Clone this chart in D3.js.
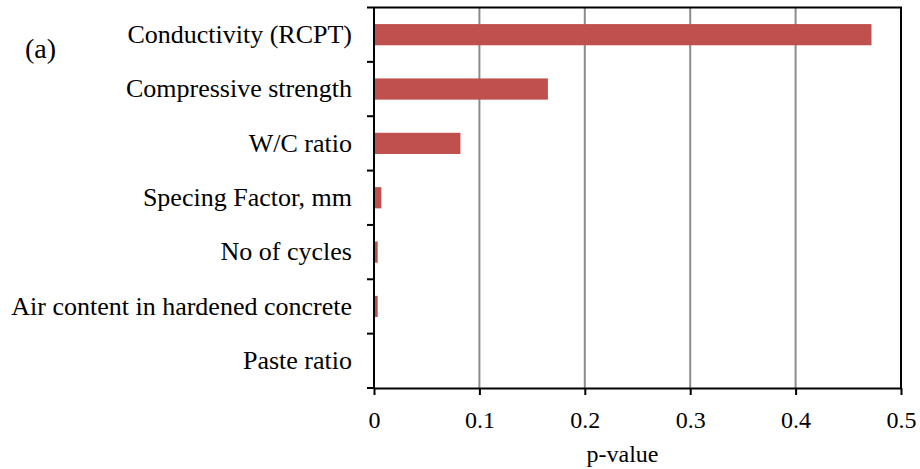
<!DOCTYPE html>
<html>
<head>
<meta charset="utf-8">
<script src="https://cdn.jsdelivr.net/npm/d3@7"></script>
<style>
  html, body { margin: 0; padding: 0; background: #fff; }
  svg { display: block; }
</style>
</head>
<body>
<svg id="chart" width="920" height="469"></svg>
<script>
// Factors and their p-values
const categories = [
  "Conductivity (RCPT)",
  "Compressive strength",
  "W/C ratio",
  "Specing Factor, mm",
  "No of cycles",
  "Air content in hardened concrete",
  "Paste ratio"
];
const pValues = [0.472, 0.165, 0.082, 0.007, 0.0035, 0.0035, 0];
const xTicks = [0, 0.1, 0.2, 0.3, 0.4, 0.5];
const xTickLabels = ["0", "0.1", "0.2", "0.3", "0.4", "0.5"];

const FONT = "'Liberation Serif', 'Times New Roman', serif";

const svg = d3.select("#chart");
const W = 920, H = 469;
const margin = { left: 374, right: 19, top: 7.5, bottom: 81 };
const x0 = margin.left, x1 = W - margin.right;
const y0 = margin.top, y1 = H - margin.bottom;

const x = d3.scaleLinear().domain([0, 0.5]).range([x0, x1]);
const y = d3.scaleBand().domain(categories).range([y0, y1]).padding(0);
const barH = y.bandwidth() * 0.39;

// vertical gridlines
svg.append("g")
  .selectAll("line")
  .data(xTicks.slice(1, -1))
  .join("line")
  .attr("x1", d => x(d)).attr("x2", d => x(d))
  .attr("y1", y0).attr("y2", y1)
  .attr("stroke", "#8c8c8c").attr("stroke-width", 2);

// bars
svg.append("g")
  .selectAll("rect")
  .data(categories.map((c, i) => ({ c, v: pValues[i] })))
  .join("rect")
  .attr("x", x(0))
  .attr("y", d => y(d.c) + (y.bandwidth() - barH) / 2)
  .attr("width", d => x(d.v) - x(0))
  .attr("height", barH)
  .attr("fill", "#C0504D");

// frame: top and right edges
svg.append("path")
  .attr("d", `M${x0},${y0}H${x1}V${y1}`)
  .attr("fill", "none").attr("stroke", "#000").attr("stroke-width", 2);

// left axis: category labels
const yAxis = d3.axisLeft(y).tickSize(0).tickPadding(22);
const gy = svg.append("g").attr("transform", `translate(${x0},0)`).call(yAxis)
  .attr("font-family", FONT).attr("font-size", "26px");
gy.select(".domain").remove();
gy.selectAll("text").attr("fill", "#000");

// left axis line with ticks at band boundaries
const bounds = categories.map(c => y(c)).concat([y.range()[1]]);
svg.append("line")
  .attr("x1", x0).attr("x2", x0).attr("y1", y0).attr("y2", y1)
  .attr("stroke", "#000").attr("stroke-width", 2);
svg.append("g").selectAll("line").data(bounds).join("line")
  .attr("x1", x0 - 7).attr("x2", x0)
  .attr("y1", d => d).attr("y2", d => d)
  .attr("stroke", "#000").attr("stroke-width", 2);

// bottom axis
const xAxis = d3.axisBottom(x).tickValues(xTicks)
  .tickFormat((d, i) => xTickLabels[i]).tickSize(7).tickSizeOuter(0).tickPadding(16);
const gx = svg.append("g").attr("transform", `translate(0,${y1})`).call(xAxis)
  .attr("font-family", FONT).attr("font-size", "24px");
gx.select(".domain").attr("stroke-width", 2).attr("stroke", "#000");
gx.selectAll(".tick line").attr("stroke-width", 2).attr("stroke", "#000");
gx.selectAll("text").attr("fill", "#000");

// axis title
svg.append("text")
  .attr("x", 622.5).attr("y", 462)
  .attr("text-anchor", "middle")
  .attr("font-family", FONT).attr("font-size", "24px")
  .text("p-value");

// panel label
svg.append("text")
  .attr("x", 25).attr("y", 58)
  .attr("font-family", FONT).attr("font-size", "28px")
  .text("(a)");
</script>
</body>
</html>
